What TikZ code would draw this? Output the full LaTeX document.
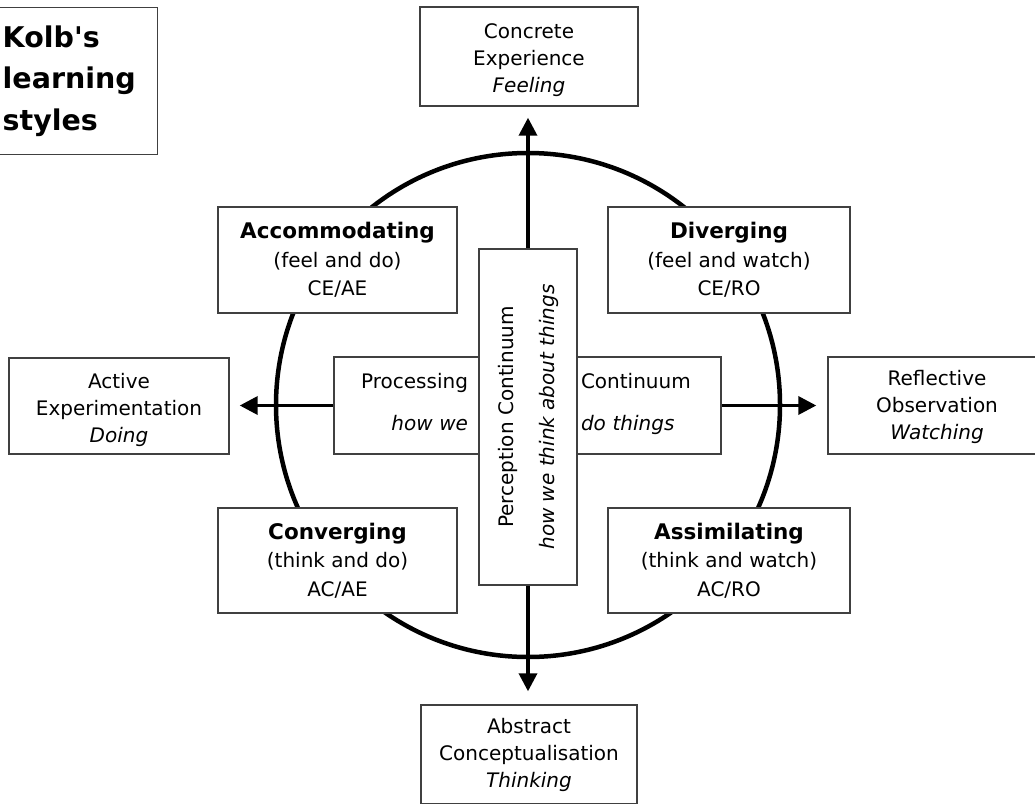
\documentclass[tikz,border=0pt]{standalone}
\usepackage{fontspec}
\setmainfont{DejaVu Sans}
\usetikzlibrary{arrows.meta,backgrounds}
\begin{document}
\begin{tikzpicture}[x=1pt,y=-1pt,
  box/.style={draw=black!75, line width=1.4pt, fill=white, align=center, inner sep=0pt},
  lbl/.style={box, font=\fontsize{20}{27}\selectfont},
  sty/.style={box, font=\fontsize{20}{28.5}\selectfont},
  arr/.style={line width=3.5pt, -{Triangle[length=18pt,width=18pt]}},
  ringstyle/.style={circle, draw=black, line width=4.5pt, minimum size=504pt, inner sep=0pt}]
\useasboundingbox (0,0) rectangle (1035,803);

% title
\node[draw=black!75, line width=1.4pt, anchor=north west, minimum height=147pt,
      text width=148pt, inner xsep=7pt, inner ysep=0pt, align=left,
      font=\bfseries\fontsize{28.5}{41.5}\selectfont] (title) at (-5,7)
      {Kolb\textquotesingle s\\learning\\styles};

% outer poles
\node[lbl, minimum width=218pt, minimum height=99pt] (ce) at (529,56.5)
  {\rule{0pt}{23pt}Concrete\\Experience\\\textit{Feeling}};
\node[lbl, minimum width=216pt, minimum height=99pt] (ac) at (529,754.5)
  {Abstract\\Conceptualisation\\\textit{Thinking}};
\node[lbl, minimum width=220pt, minimum height=96pt] (ae) at (119,406)
  {\rule{0pt}{23pt}Active\\Experimentation\\\textit{Doing}};
\node[lbl, minimum width=218pt, minimum height=97pt] (ro) at (937,405.5)
  {\rule{0pt}{19pt}Reflective\\Observation\\\textit{Watching}};

% styles
\node[sty, minimum width=239pt, minimum height=106pt] (acc) at (337.5,260)
  {{\bfseries\fontsize{21.5}{28.5}\selectfont Accommodating}\\(feel and do)\\CE/AE};
\node[sty, minimum width=242pt, minimum height=106pt] (div) at (729,260)
  {{\bfseries\fontsize{21.5}{28.5}\selectfont Diverging}\\(feel and watch)\\CE/RO};
\node[sty, minimum width=239pt, minimum height=105pt] (con) at (337.5,560.5)
  {{\bfseries\fontsize{21.5}{28.5}\selectfont Converging}\\(think and do)\\AC/AE};
\node[sty, minimum width=242pt, minimum height=105pt] (ass) at (729,560.5)
  {{\bfseries\fontsize{21.5}{28.5}\selectfont Assimilating}\\(think and watch)\\AC/RO};

% processing continuum
\node[box, minimum width=145pt, minimum height=97pt, text width=123pt, inner xsep=11pt,
      align=right, font=\fontsize{20}{42}\selectfont] (proc) at (406.5,405.5)
  {Processing\\\textit{how we}\rule[-8pt]{0pt}{8pt}};
\node[box, minimum width=144pt, minimum height=97pt, text width=136pt, inner xsep=4pt,
      align=left, font=\fontsize{20}{42}\selectfont] (cont) at (649,405.5)
  {Continuum\\\textit{do things}\rule[-8pt]{0pt}{8pt}};

% perception continuum
\node[box, rotate=90, minimum width=336pt, minimum height=98pt,
      font=\fontsize{20}{41}\selectfont] (pc) at (528,417)
  {Perception Continuum\\\textit{how we think about things}};

\begin{pgfonlayer}{background}
  \node[ringstyle] (ring) at (528,405) {};
  \draw[arr, shorten >=11pt] (pc.east) -- (pc.east |- ce.south);
  \draw[arr, shorten >=13pt] (pc.west) -- (pc.west |- ac.north);
  \draw[arr, shorten >=10pt] (proc.west) -- (proc.west -| ae.east);
  \draw[arr, shorten >=11pt] (cont.east) -- (cont.east -| ro.west);
\end{pgfonlayer}
\end{tikzpicture}
\end{document}
